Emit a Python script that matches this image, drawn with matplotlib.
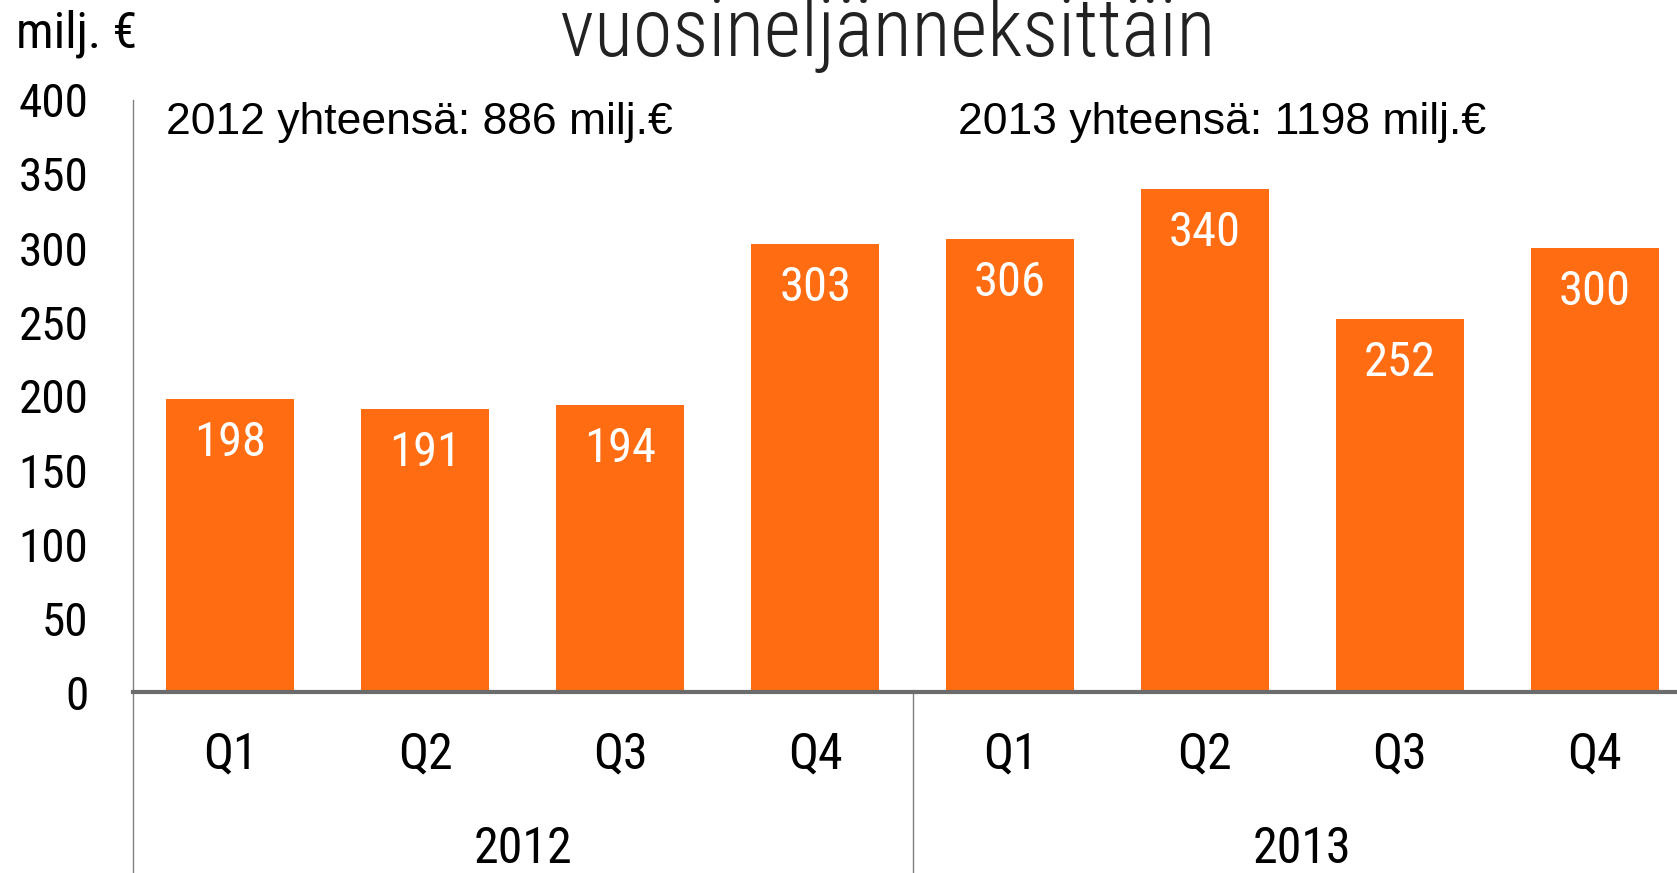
import matplotlib
matplotlib.use("Agg")
import matplotlib.pyplot as plt
import matplotlib.transforms as mtransforms
from matplotlib import font_manager

# data
quarters = ["Q1", "Q2", "Q3", "Q4", "Q1", "Q2", "Q3", "Q4"]
years = ["2012", "2013"]
values = [198, 191, 194, 303, 306, 340, 252, 300]
totals = ["2012 yhteensä: 886 milj.€", "2013 yhteensä: 1198 milj.€"]
yticks = [0, 50, 100, 150, 200, 250, 300, 350, 400]


def pick_font(names):
    for n in names:
        try:
            font_manager.findfont(n, fallback_to_default=False)
            return n
        except Exception:
            pass
    return "DejaVu Sans"


narrow = pick_font(["Liberation Sans Narrow", "Roboto Condensed", "Liberation Sans"])
wide = pick_font(["Liberation Sans", "Arial"])

W, H = 1677, 873
fig = plt.figure(figsize=(W / 100, H / 100), dpi=100)

# axes placed in pixel terms, right edge runs past the figure like the original
x0, x1 = 133, 133 + 8 * 194.9
y0, y1 = 692, 100
ax = fig.add_axes([x0 / W, (H - y0) / H, (x1 - x0) / W, (y0 - y1) / H])

orange = "#FF6C12"
xs = list(range(len(values)))
bars = ax.bar(xs, values, width=0.657, color=orange, zorder=2)

ax.set_xlim(-0.5, len(values) - 0.5)
ax.set_ylim(0, 400)
ax.set_yticks(yticks)
ax.set_yticklabels([str(t) for t in yticks], fontsize=34, family=narrow)
ax.tick_params(axis="y", length=0, pad=32)
ax.set_xticks([])
for s in ax.spines.values():
    s.set_visible(False)

ax.axhline(0, color="#6b6b6b", lw=3, zorder=3, clip_on=False)

# value labels inside bars
for x, v in zip(xs, values):
    ax.annotate(str(v), (x, v), xytext=(0, -41), textcoords="offset points",
                ha="center", va="baseline", color="white", fontsize=35,
                family=narrow)

# category axis below
trans = mtransforms.blended_transform_factory(ax.transData, ax.transAxes)
bottom = -(H - y0) / (y0 - y1)
for x, q in zip(xs, quarters):
    ax.text(x, -0.105, q, transform=trans, ha="center", va="center",
            fontsize=36, family=narrow)
for i, yr in enumerate(years):
    ax.text(1.5 + 4 * i, -0.265, yr, transform=trans, ha="center",
            va="center", fontsize=36, family=narrow)

ax.plot([-0.5, -0.5], [1, bottom], transform=trans, color="#808080",
        lw=1, clip_on=False)
ax.plot([3.5, 3.5], [0, bottom], transform=trans, color="#808080",
        lw=1, clip_on=False)

# header texts
fig.text(888 / W, 1 - 56 / H, "vuosineljänneksittäin", ha="center",
         va="baseline", fontsize=58, family=narrow, fontweight="light",
         color="#222222")
fig.text(16 / W, 1 - 48 / H, "milj. €", ha="left", va="baseline",
         fontsize=36, family=narrow)
fig.text(166 / W, 1 - 134 / H, totals[0], ha="left", va="baseline",
         fontsize=32, family=wide)
fig.text(958 / W, 1 - 134 / H, totals[1], ha="left", va="baseline",
         fontsize=32, family=wide)

fig.savefig("out.png", dpi=100)
